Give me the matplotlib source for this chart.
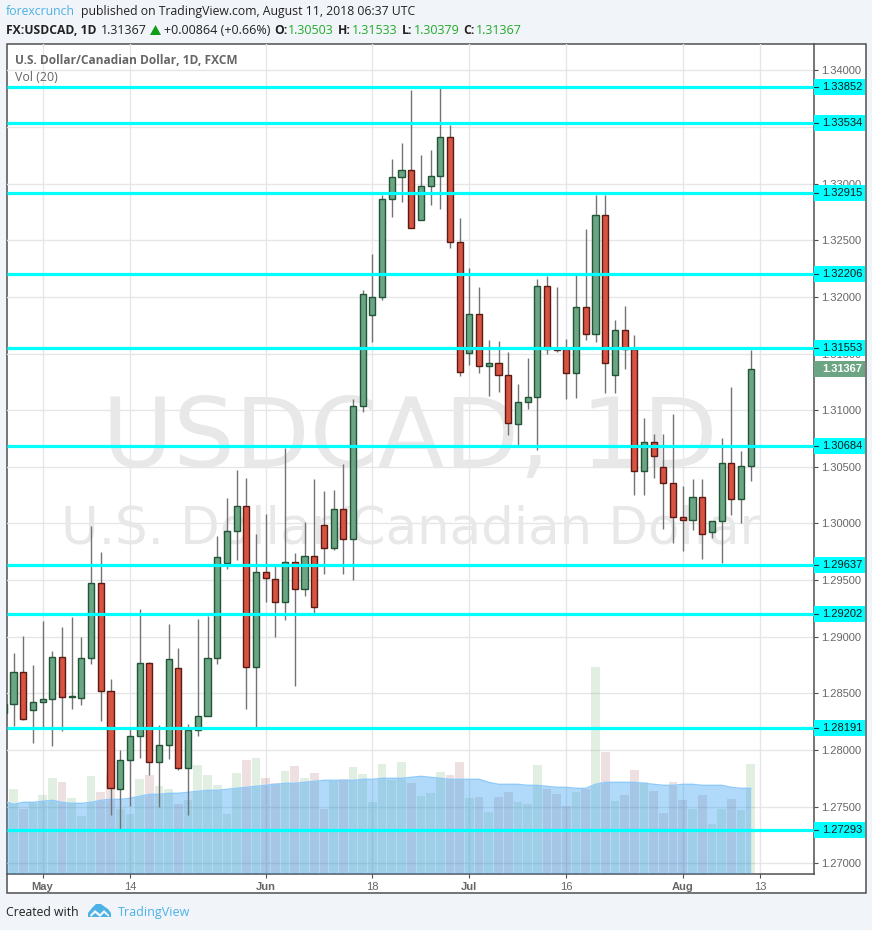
import numpy as np
import matplotlib
matplotlib.use('Agg')
import matplotlib.pyplot as plt
from matplotlib.patches import Rectangle, Polygon
from matplotlib.transforms import Affine2D

# daily USDCAD candles, first one is cut off by the left edge
opens = [1.28327, 1.28404, 1.28687, 1.28351, 1.28422, 1.28448, 1.28819, 1.28466, 1.28457, 1.28811,
         1.29473, 1.28519, 1.27659, 1.27910, 1.28122, 1.28766, 1.27892, 1.28042, 1.28722, 1.27839,
         1.28175, 1.28298, 1.28811, 1.29650, 1.29932, 1.30153, 1.28731, 1.29570, 1.29508, 1.29305,
         1.29658, 1.29425, 1.29711, 1.29985, 1.29782, 1.30127, 1.29862, 1.31036, 1.31840, 1.31999,
         1.32864, 1.33059, 1.33121, 1.32679, 1.32979, 1.33068, 1.33412, 1.32485, 1.31504, 1.31849,
         1.31390, 1.31416, 1.31310, 1.30877, 1.31072, 1.31116, 1.32096, 1.31540, 1.31540, 1.31328,
         1.31911, 1.31672, 1.32723, 1.31310, 1.31707, 1.31540, 1.30462, 1.30718, 1.30497, 1.30356,
         1.30056, 1.30029, 1.30233, 1.29923, 1.30021, 1.30533, 1.30215, 1.30503]
closes = [1.28407, 1.28687, 1.28272, 1.28422, 1.28448, 1.28819, 1.28466, 1.28475, 1.28811, 1.29473,
          1.28519, 1.27662, 1.27910, 1.28122, 1.28766, 1.27892, 1.28042, 1.28802, 1.27839, 1.28175,
          1.28298, 1.28811, 1.29703, 1.29932, 1.30153, 1.28731, 1.29570, 1.29522, 1.29305, 1.29658,
          1.29425, 1.29711, 1.29261, 1.29782, 1.30127, 1.29862, 1.31036, 1.32025, 1.31999, 1.32864,
          1.33059, 1.33121, 1.32608, 1.32979, 1.33068, 1.33412, 1.32485, 1.31337, 1.31849, 1.31390,
          1.31416, 1.31310, 1.30883, 1.31072, 1.31116, 1.32096, 1.31540, 1.31527, 1.31328, 1.31911,
          1.31672, 1.32723, 1.31416, 1.31707, 1.31540, 1.30462, 1.30718, 1.30595, 1.30356, 1.30056,
          1.30029, 1.30233, 1.29906, 1.30021, 1.30533, 1.30215, 1.30506, 1.31367]
highs = [1.28531, 1.28855, 1.29008, 1.28751, 1.29140, 1.28875, 1.29087, 1.29175, 1.28999, 1.29979,
         1.29749, 1.28628, 1.28001, 1.28195, 1.29243, 1.28778, 1.28221, 1.29114, 1.28902, 1.28230,
         1.29158, 1.29184, 1.29891, 1.30226, 1.30474, 1.30403, 1.29908, 1.30085, 1.29626, 1.30668,
         1.29741, 1.30014, 1.30394, 1.30288, 1.30297, 1.30527, 1.31101, 1.32063, 1.32381, 1.32902,
         1.33220, 1.33362, 1.33830, 1.33256, 1.33300, 1.33847, 1.33521, 1.32699, 1.32258, 1.32090,
         1.31622, 1.31613, 1.31516, 1.31233, 1.31463, 1.32161, 1.32187, 1.32090, 1.31631, 1.32196,
         1.32602, 1.32902, 1.32902, 1.31798, 1.31922, 1.31666, 1.30933, 1.30792, 1.30792, 1.30968,
         1.30332, 1.30394, 1.30394, 1.30025, 1.30756, 1.31207, 1.30641, 1.31533]
lows = [1.28221, 1.28215, 1.28265, 1.28060, 1.28206, 1.28039, 1.28171, 1.28365, 1.28401, 1.28763,
        1.28259, 1.27427, 1.27303, 1.27509, 1.27927, 1.27780, 1.27500, 1.27919, 1.27824, 1.27427,
        1.28127, 1.28298, 1.28763, 1.29599, 1.29679, 1.28363, 1.28206, 1.29308, 1.28999, 1.29151,
        1.28569, 1.29361, 1.29211, 1.29555, 1.29767, 1.29555, 1.29502, 1.30980, 1.31598, 1.31969,
        1.32702, 1.32834, 1.32608, 1.32679, 1.32814, 1.32779, 1.32428, 1.31304, 1.31401, 1.31330,
        1.31127, 1.31162, 1.30777, 1.30694, 1.31012, 1.30650, 1.31498, 1.31510, 1.31101, 1.31110,
        1.31622, 1.31604, 1.31154, 1.31154, 1.31366, 1.30253, 1.30253, 1.30403, 1.29953, 1.29829,
        1.29758, 1.29944, 1.29688, 1.29873, 1.29652, 1.30076, 1.30006, 1.30379]

volumes = [70, 84, 64, 70, 78, 95, 91, 75, 57, 97, 81, 100, 64, 59, 94, 98, 87, 84, 69, 73,
           108, 98, 88, 59, 100, 113, 115, 95, 90, 102, 107, 95, 100, 64, 92, 94, 106, 99, 71, 109,
           93, 111, 90, 77, 80, 101, 98, 111, 75, 76, 61, 76, 81, 71, 69, 108, 84, 79, 67, 81,
           84, 206, 121, 72, 78, 103, 91, 82, 60, 91, 73, 64, 78, 49, 64, 74, 63, 109]
vol_ma = [72, 69, 71, 71, 72, 73, 71, 70, 70, 71, 73, 74, 74, 75, 77, 79, 79, 80, 80, 81,
          82, 83, 83, 84, 85, 86, 87, 88, 89, 90, 90, 91, 92, 93, 93, 93, 93, 94, 94, 95,
          95, 95, 96, 97, 96, 95, 94, 94, 94, 94, 91, 89, 89, 89, 88, 88, 87, 86, 86, 85,
          85, 89, 91, 91, 91, 91, 90, 89, 88, 88, 89, 89, 88, 88, 88, 86, 85, 85]

levels = [1.33852, 1.33534, 1.32915, 1.32206, 1.31553, 1.30684, 1.29637, 1.29202, 1.28191, 1.27293]
last_close = 1.31367

price_ticks = [1.27, 1.275, 1.28, 1.285, 1.29, 1.295, 1.30, 1.305, 1.31, 1.315, 1.32, 1.325, 1.33, 1.335, 1.34]
hidden_ticks = [1.335]  # sits fully under a level tag
date_ticks = [3, 12, 26, 37, 47, 57, 69, 77]
date_labels = ['May', '14', 'Jun', '18', 'Jul', '16', 'Aug', '13']
bold_dates = ['May', 'Jun', 'Jul', 'Aug']

GREEN, GREEN_EDGE = '#6ba583', '#225437'
RED, RED_EDGE = '#d75442', '#5b1a13'
CYAN = '#00ffff'
BLUE_TEXT = '#4bb2e6'
QUOTE_GREEN = '#22ab2a'
SANS = 'Liberation Sans'
UI = 'Open Sans'
AXIS_SIZE = 8.0

W, H = 872, 930
fig = plt.figure(figsize=(W / 100, H / 100), dpi=100, facecolor='#f1f4f8')
# page pixels, y going down, for everything that is not data
pix = Affine2D().scale(1 / W, -1 / H).translate(0, 1) + fig.transFigure


def page_text(x, y, s, **kw):
    kw.setdefault('family', UI)
    kw.setdefault('va', 'center')
    fig.text(x / W, 1 - y / H, s, **kw)


fig.add_artist(Rectangle((6.5, 44), 859, 849, transform=pix, fc='white', ec='#505050', lw=1.1, zorder=-1))

ax = fig.add_axes([7 / W, 1 - 874 / H, 807 / W, 830 / H], zorder=1)
ax.patch.set_alpha(0)

x = np.arange(-1, 77)
o, c, hi, lo = map(np.array, (opens, closes, highs, lows))
up = c >= o

ax.set_xlim((7 - 13.5) / 9.7, (814 - 13.5) / 9.7)
ax.set_ylim(1.26906, 1.34232)
px_unit = 0.07326 / 830  # price per pixel

# grid
ax.set_axisbelow(True)
ax.grid(True, color='#e6e6e6', lw=1.0)
ax.set_yticks(price_ticks)
ax.set_yticklabels(['' if p in hidden_ticks else '%.5f' % p for p in price_ticks],
                   family=SANS, fontsize=AXIS_SIZE, color='#666666')
ax.yaxis.tick_right()
ax.set_xticks(date_ticks)
ax.set_xticklabels(date_labels, family=SANS, fontsize=AXIS_SIZE, color='#666666')
for t in ax.get_xticklabels():
    if t.get_text() in bold_dates:
        t.set_fontweight('bold')
ax.tick_params(axis='y', length=3, width=0.8, color='#505050', pad=2)
ax.tick_params(axis='x', length=3, width=0.8, color='#505050', pad=3)
for side in ['left', 'top']:
    ax.spines[side].set_visible(False)
for side in ['right', 'bottom']:
    ax.spines[side].set_color('#505050')
    ax.spines[side].set_linewidth(1.1)

# watermark
ax.text(410, 467, 'USDCAD, 1D', transform=pix, family='DejaVu Sans', fontsize=70, color='#e8e8e8',
        ha='center', va='baseline', zorder=1)
ax.text(411, 543, 'U.S. Dollar/Canadian Dollar', transform=pix, family='DejaVu Sans', fontsize=37,
        color='#e8e8e8', ha='center', va='baseline', zorder=1)

# volume pane shares the price axes: one volume unit is one pixel high
vol_trans = Affine2D().scale(1, px_unit).translate(0, 1.26912) + ax.transData
vol = np.array(volumes)
ax.bar(x[up], vol[up], width=0.9, color='#6aaa6e', alpha=0.2, lw=0, transform=vol_trans, zorder=2)
ax.bar(x[~up], vol[~up], width=0.9, color='#8f3030', alpha=0.15, lw=0, transform=vol_trans, zorder=2)
ax.fill_between(x, 0, vol_ma, color='#2196f3', alpha=0.35, lw=0, transform=vol_trans, zorder=3)
ax.plot(x, vol_ma, color='#90caf9', lw=1.0, transform=vol_trans, zorder=3)

# candles
ax.vlines(x, lo, hi, color='#737375', lw=1.0, zorder=4)
ax.bar(x[up], (c - o)[up], bottom=o[up], width=0.62, color=GREEN, edgecolor=GREEN_EDGE, lw=1.0, zorder=5)
ax.bar(x[~up], (o - c)[~up], bottom=c[~up], width=0.62, color=RED, edgecolor=RED_EDGE, lw=1.0, zorder=5)

# support / resistance lines with their tags
ytrans = ax.get_yaxis_transform()
ax.hlines(levels, *ax.get_xlim(), color=CYAN, lw=2.3, zorder=6)
box_w = 51 / 807
for lvl in levels:
    ax.add_patch(Rectangle((1, lvl - 8 * px_unit), box_w, 16 * px_unit, transform=ytrans, fc=CYAN, ec='none',
                           clip_on=False, zorder=7))
    ax.plot([1, 1 + 4 / 807], [lvl, lvl], color='#333333', lw=0.8, transform=ytrans, clip_on=False, zorder=8)
    ax.text(1 + 8 / 807, lvl, '%.5f' % lvl, transform=ytrans, family=SANS, fontsize=AXIS_SIZE, color='#1a1a1a',
            va='center', ha='left', clip_on=False, zorder=8)
ax.add_patch(Rectangle((1, last_close - 8 * px_unit), box_w, 16 * px_unit, transform=ytrans, fc=GREEN, ec='none',
                       clip_on=False, zorder=7))
ax.text(1 + 8 / 807, last_close, '%.5f' % last_close, transform=ytrans, family=SANS, fontsize=AXIS_SIZE,
        color='white', fontweight='bold', va='center', ha='left', clip_on=False, zorder=8)

# pane titles
page_text(15, 60.5, 'U.S. Dollar/Canadian Dollar, 1D, FXCM', fontsize=8.6, fontweight='bold', color='#666666')
page_text(15, 77.5, 'Vol (20)', fontsize=8.9, color='#666666')

# header
DARK = '#222222'
page_text(6, 11.5, 'forexcrunch', fontsize=8.8, color=BLUE_TEXT)
page_text(81, 11.5, 'published on TradingView.com, August 11, 2018 06:37 UTC', fontsize=8.8, color=DARK)
page_text(6, 30, 'FX:USDCAD, 1D', fontsize=8.7, fontweight='bold', color=DARK)
page_text(101, 30, '1.31367', fontsize=9.0, color=DARK)
page_text(164, 30, '+0.00864 (+0.66%)', fontsize=9.0, color=DARK)
fig.add_artist(Polygon([(150, 35), (161, 35), (155.5, 25)], transform=pix, fc='#0f9d1a', ec='none'))
for lx, label, vx, value in [(274, 'O:', 288, '1.30503'), (338, 'H:', 352, '1.31533'),
                             (402, 'L:', 414, '1.30379'), (463, 'C:', 476, '1.31367')]:
    page_text(lx, 30, label, fontsize=8.7, fontweight='bold', color=DARK)
    page_text(vx, 30, value, fontsize=9.0, color=QUOTE_GREEN)

# footer with the cloud logo
page_text(6, 912, 'Created with', fontsize=8.8, color=DARK)
page_text(118, 912, 'TradingView', fontsize=9.0, color=BLUE_TEXT)
fig.add_artist(Polygon([(88, 917), (88, 913), (92, 908), (96, 904), (101, 904), (105, 907), (108, 909),
                        (111, 913), (111, 917)], transform=pix, fc=BLUE_TEXT, ec='none'))
fig.add_artist(Polygon([(90, 915), (95, 910), (100, 914), (104, 910), (109, 915), (109, 917), (104, 913),
                        (100, 917), (95, 913), (91, 917)], transform=pix, fc='#f1f4f8', ec='none'))

fig.savefig('out.png', dpi=100, facecolor=fig.get_facecolor())
